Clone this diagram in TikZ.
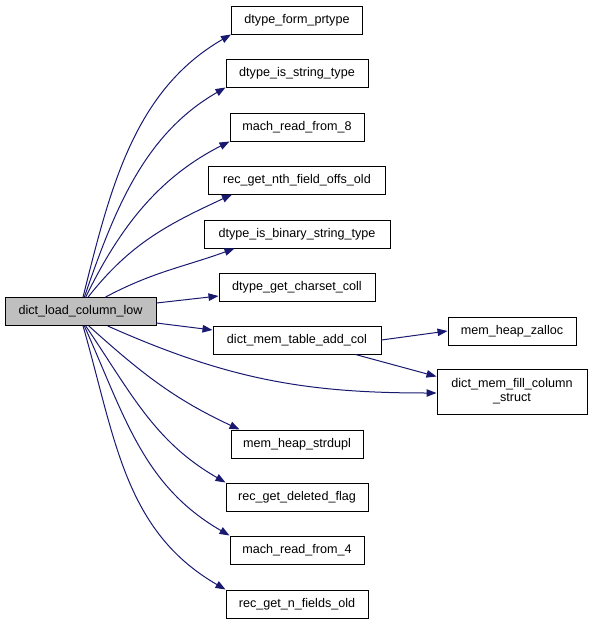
\documentclass[tikz,border=0pt]{standalone}
\usepackage{fontspec}
\setmainfont{Liberation Sans}
\usetikzlibrary{arrows.meta}

\definecolor{edgeblue}{HTML}{191970}
\definecolor{mainfill}{HTML}{BFBFBF}

\begin{document}
\begin{tikzpicture}[
    x=1pt, y=-1pt,
    font=\fontsize{12.6}{14}\selectfont,
    fn/.style={draw=black, line width=1pt, fill=white, inner sep=0pt,
        minimum height=28pt, text height=9pt, text depth=3pt},
    call/.style={edgeblue, line width=1pt,
        -{Triangle[length=10pt, width=7.5pt]}}
]
    \useasboundingbox (0,0) rectangle (592,624);

    % Caller
    \node[fn, fill=mainfill, minimum width=151pt] (load) at (80.5,311.5) {dict\_load\_column\_low};

    % Callees, first column
    \node[fn, minimum width=131pt] (form)    at (297,20)  {dtype\_form\_prtype};
    \node[fn, minimum width=142pt] (isstr)   at (297,73)  {dtype\_is\_string\_type};
    \node[fn, minimum width=134pt] (read8)   at (297,127) {mach\_read\_from\_8};
    \node[fn, minimum width=177pt] (nthoffs) at (297,180) {rec\_get\_nth\_field\_offs\_old};
    \node[fn, minimum width=186pt] (isbin)   at (297,234) {dtype\_is\_binary\_string\_type};
    \node[fn, minimum width=156pt] (charset) at (297,287) {dtype\_get\_charset\_coll};
    \node[fn, minimum width=168pt] (addcol)  at (297,340) {dict\_mem\_table\_add\_col};
    \node[fn, minimum width=132pt] (strdupl) at (297,444) {mem\_heap\_strdupl};
    \node[fn, minimum width=142pt] (delflag) at (297,497) {rec\_get\_deleted\_flag};
    \node[fn, minimum width=134pt] (read4)   at (297,550) {mach\_read\_from\_4};
    \node[fn, minimum width=142pt] (nfields) at (297,604) {rec\_get\_n\_fields\_old};

    % Callees, second column
    \node[fn, minimum width=128pt] (zalloc) at (512,331) {mem\_heap\_zalloc};
    \node[fn, minimum width=150pt, minimum height=45pt, align=center, text height=,
        text depth=] (fillcol) at (512,391.5) {dict\_mem\_fill\_column\\\_struct};

    % Calls from dict_load_column_low
    \draw[call] (load.80) to[out=76, in=210, looseness=0.95] (form.south west);
    \draw[call] (load.75) to[out=71, in=210, looseness=0.95] (isstr.south west);
    \draw[call] (load.70) to[out=64, in=207, looseness=0.95] (read8.south west);
    \draw[call] (load.62) to[out=52, in=205] ([xshift=24pt]nthoffs.south west);
    \draw[call] (load.30) to[out=28, in=200] ([xshift=31pt]isbin.south west);
    \draw[call] (load.east |- 0,303) to ([yshift=-9pt]charset.west);
    \draw[call] (load.east |- 0,323) to ([yshift=10pt]addcol.west);
    \draw[call] (load.-28) to[out=-24, in=180] ([yshift=-1.5pt]fillcol.west);
    \draw[call] (load.-60) to[out=-42, in=155] ([xshift=9pt]strdupl.north west);
    \draw[call] (load.-70) to[out=-56, in=150] (delflag.north west);
    \draw[call] (load.-75) to[out=-66, in=150] (read4.north west);
    \draw[call] (load.-80) to[out=-74, in=150] (nfields.north west);

    % Calls from dict_mem_table_add_col
    \draw[call] (addcol.east) to (zalloc.west);
    \draw[call] ([xshift=-26pt]addcol.south east) to ([yshift=-8pt]fillcol.north west);
\end{tikzpicture}
\end{document}
